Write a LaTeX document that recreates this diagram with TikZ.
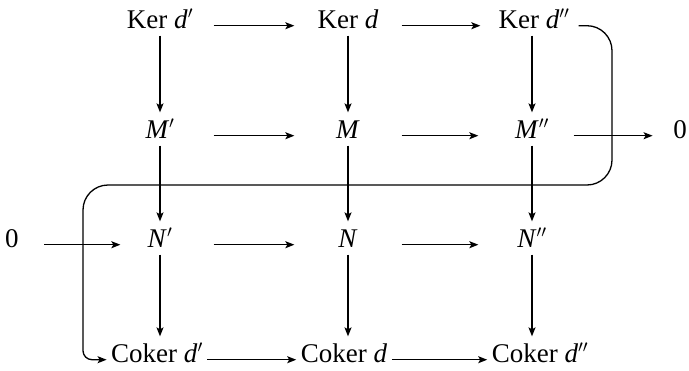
\documentclass[tikz,border=0pt]{standalone}
\usepackage{fontspec}
\setmainfont{Liberation Serif}
\usepackage{tikz}
\usetikzlibrary{arrows.meta}

\begin{document}
\begin{tikzpicture}[x=1pt, y=1pt, line width=1.3pt, >={Stealth[length=9pt,width=7pt,inset=2pt]},
    every node/.style={font=\fontsize{27}{31}\selectfont}]

      \useasboundingbox (0,0) rectangle (689,-370);

      \tikzstyle{Obj}=[anchor=base, inner xsep=0pt, inner ysep=7pt, text height=18pt, text depth=0pt, minimum width=106pt];
      \tikzstyle{CokObj}=[anchor=base, inner xsep=4pt, inner ysep=7pt, text height=18pt, text depth=0pt];
      \tikzstyle{Map}=[->];

        % top row: kernels
        \node[Obj](KerL) at (160, -28) {Ker \textit{d}$'$};
        \node[Obj](Ker) at (348, -28) {Ker \textit{d}};
        \node[Obj](KerR) at (534, -28) {Ker \textit{d}$''$};

        % first exact row
        \node[Obj](ML) at (160, -138) {\textit{M}$'$};
        \node[Obj](M) at (348, -138) {\textit{M}};
        \node[Obj](MR) at (532, -138) {\textit{M}$''$};
        \node[anchor=base, inner sep=0pt](ZeroR) at (680, -138) {0};

        % second exact row
        \node[anchor=base, inner sep=0pt](ZeroL) at (12, -247) {0};
        \node[Obj](NL) at (160, -247) {\textit{N}$'$};
        \node[Obj](N) at (348, -247) {\textit{N}};
        \node[Obj](NR) at (532, -247) {\textit{N}$''$};

        % bottom row: cokernels
        \node[CokObj](CokL) at (157, -362) {Coker \textit{d}$'$};
        \node[CokObj](Cok) at (344, -362) {Coker \textit{d}};
        \node[CokObj](CokR) at (540, -362) {Coker \textit{d}$''$};

        \draw[Map] (KerL.mid east) -- (Ker.mid west);
        \draw[Map] (Ker.mid east) -- (KerR.mid west);
        \draw[Map] (ML.mid east) -- (M.mid west);
        \draw[Map] (M.mid east) -- (MR.mid west);
        \draw[Map, shorten <=-12pt, shorten >=20pt] (MR.mid east) -- (ZeroR.mid west);
        \draw[Map, shorten <=25pt, shorten >=-14pt] (ZeroL.mid east) -- (NL.mid west);
        \draw[Map] (NL.mid east) -- (N.mid west);
        \draw[Map] (N.mid east) -- (NR.mid west);
        \draw[Map] (CokL.mid east) -- (Cok.mid west);
        \draw[Map] (Cok.mid east) -- (CokR.mid west);

        \draw[Map] (KerL.south -| ML) -- (ML.north);
        \draw[Map] (Ker.south -| M) -- (M.north);
        \draw[Map] (KerR.south -| MR) -- (MR.north);
        \draw[Map] (ML) -- (NL);
        \draw[Map] (M) -- (N);
        \draw[Map] (MR) -- (NR);
        \draw[Map] (NL.south) -- (CokL.north -| NL);
        \draw[Map] (N.south) -- (Cok.north -| N);
        \draw[Map] (NR.south) -- (CokR.north -| NR);

        % connecting map
        \coordinate (SnakeStart) at ([xshift=-9pt]KerR.mid east);
        \coordinate (SnakeR) at (612, -185);
        \coordinate (SnakeL) at (83, -185);
        \draw[Map, rounded corners=25pt] (SnakeStart) -| (SnakeR) -- (SnakeL)
          [rounded corners=9pt] |- (CokL.mid west);

    \end{tikzpicture}
\end{document}
